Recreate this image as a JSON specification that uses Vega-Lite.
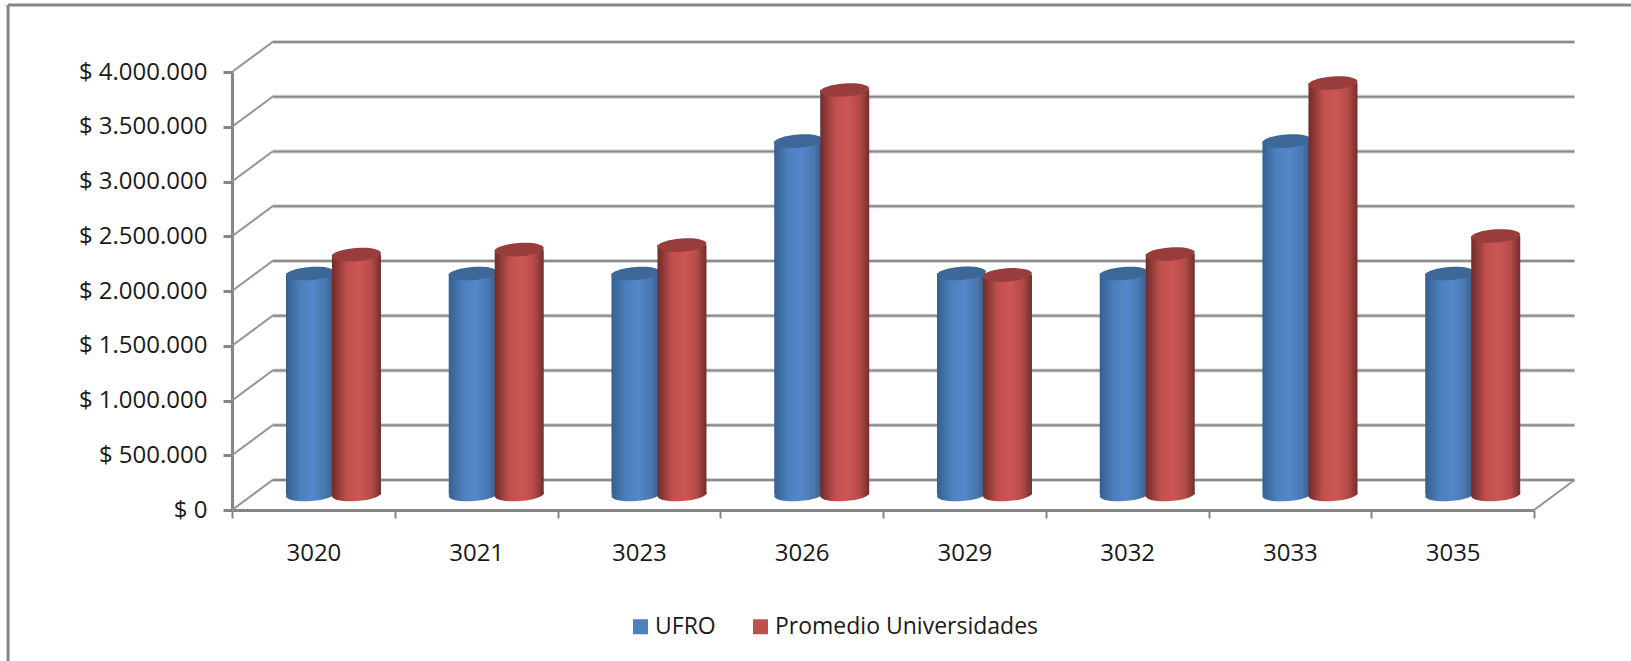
{
"$schema":"https://vega.github.io/schema/vega-lite/v6.json",
"width":1302,"height":438,"autosize":"none",
"padding":{"left":232,"top":72,"right":97,"bottom":151},
"background":"white",
"config":{"view":{"stroke":null},"font":"Open Sans"},
"datasets":{
"bars":[
{"cat":"3020","series":"UFRO","value":2018000},{"cat":"3021","series":"UFRO","value":2018000},{"cat":"3023","series":"UFRO","value":2018000},{"cat":"3026","series":"UFRO","value":3228000},{"cat":"3029","series":"UFRO","value":2020000},{"cat":"3032","series":"UFRO","value":2018000},{"cat":"3033","series":"UFRO","value":3228000},{"cat":"3035","series":"UFRO","value":2018000},
{"cat":"3020","series":"Promedio Universidades","value":2190000},{"cat":"3021","series":"Promedio Universidades","value":2236000},{"cat":"3023","series":"Promedio Universidades","value":2278000},{"cat":"3026","series":"Promedio Universidades","value":3694000},{"cat":"3029","series":"Promedio Universidades","value":2005000},{"cat":"3032","series":"Promedio Universidades","value":2196000},{"cat":"3033","series":"Promedio Universidades","value":3758000},{"cat":"3035","series":"Promedio Universidades","value":2361000}
],
"grid":[
{"value":0,"back":274000},{"value":500000,"back":774000},{"value":1000000,"back":1274000},{"value":1500000,"back":1774000},{"value":2000000,"back":2274000},{"value":2500000,"back":2774000},{"value":3000000,"back":3274000},{"value":3500000,"back":3774000},{"value":4000000,"back":4274000}
],
"frame":[
{"xa":-1.376,"xb":8.6,"ya":4612000,"yb":4612000},
{"xa":-1.376,"xb":-1.376,"ya":4612000,"yb":-1380000}
]
},
"layer":[
{"data":{"name":"frame"},"mark":{"type":"rule","color":"#868686","strokeWidth":3},
 "encoding":{
  "x":{"field":"xa","type":"quantitative","scale":{"domain":[0,8],"nice":false,"zero":false},"axis":null},"x2":{"field":"xb"},
  "y":{"field":"ya","type":"quantitative","scale":{"domain":[0,4000000],"nice":false},"axis":null},"y2":{"field":"yb"}}},
{"data":{"name":"grid"},"mark":{"type":"rule","color":"#d4d4d4","strokeWidth":4},
 "encoding":{
  "x":{"datum":0.249,"type":"quantitative","scale":{"domain":[0,8],"nice":false,"zero":false},"axis":null},"x2":{"datum":8.249},
  "y":{"field":"back","type":"quantitative","scale":{"domain":[0,4000000],"nice":false},"axis":null}}},
{"data":{"name":"grid"},"mark":{"type":"rule","color":"#8a8a8a","strokeWidth":2},
 "encoding":{
  "x":{"datum":0.249,"type":"quantitative","scale":{"domain":[0,8],"nice":false,"zero":false},"axis":null},"x2":{"datum":8.249},
  "y":{"field":"back","type":"quantitative","scale":{"domain":[0,4000000],"nice":false},"axis":null}}},
{"data":{"name":"grid"},"mark":{"type":"rule","color":"#949494","strokeWidth":2},
 "encoding":{
  "x":{"datum":0,"type":"quantitative","scale":{"domain":[0,8],"nice":false,"zero":false},"axis":null},"x2":{"datum":0.249},
  "y":{"field":"value","type":"quantitative","scale":{"domain":[0,4000000],"nice":false},
   "axis":{"title":null,"values":[0,500000,1000000,1500000,2000000,2500000,3000000,3500000,4000000],"grid":false,"domainColor":"#868686","domainWidth":3,"tickColor":"#868686","tickWidth":3,"tickSize":9,"labelPadding":16,"labelFont":"Open Sans","labelFontSize":24,"labelColor":"#1a1a1a","labelExpr":"'$ ' + replace(format(datum.value, ','), /,/g, '.')"}},
  "y2":{"field":"back"}}},
{"data":{"name":"grid"},"transform":[{"filter":"datum.value === 0"}],"mark":{"type":"rule","color":"#949494","strokeWidth":2},
 "encoding":{
  "x":{"datum":8,"type":"quantitative","scale":{"domain":[0,8],"nice":false,"zero":false},"axis":null},"x2":{"datum":8.249},
  "y":{"field":"value","type":"quantitative","scale":{"domain":[0,4000000],"nice":false},"axis":null},
  "y2":{"field":"back"}}},
{"data":{"name":"bars"},"mark":{"type":"rule","opacity":0},
 "encoding":{
  "x":{"field":"cat","type":"nominal","scale":{"paddingInner":0,"paddingOuter":0},
   "axis":{"title":null,"labelAngle":0,"tickBand":"extent","domainColor":"#868686","domainWidth":3,"tickColor":"#868686","tickWidth":2,"tickSize":8,"labelPadding":23,"labelFont":"Open Sans","labelFontSize":24,"labelColor":"#1a1a1a"}}}},
{"data":{"name":"bars"},"mark":{"type":"square","opacity":0,"size":1},
 "encoding":{
  "fill":{"field":"series","type":"nominal","scale":{"domain":["UFRO","Promedio Universidades"],"range":["#4f81bd","#c0504d"]},
   "legend":{"title":null,"orient":"none","legendX":397,"legendY":543,"direction":"horizontal","columns":2,"symbolType":"square","symbolSize":225,"symbolOpacity":1,"symbolStrokeWidth":0,"labelFont":"Open Sans","labelFontSize":23,"labelColor":"#1a1a1a","labelOffset":3,"labelLimit":500,"columnPadding":33,"padding":0}}}},

{"data":{"name":"bars"},"transform":[{"filter":"datum.series === 'UFRO'"}],
 "encoding":{"x":{"field":"cat","type":"nominal","scale":{"range":[-2.9,1299.1],"paddingInner":0,"paddingOuter":0},"axis":null}},
 "layer":[
 {"mark":{"type":"point","filled":true,"opacity":1,"size":2401,"shape":"M-1,0.07A1,0.27,-4,1,1,1,-0.07A1,0.27,-4,1,1,-1,0.07Z","fill":{"gradient":"linear","x1":0,"x2":1,"y1":0,"y2":0,"stops":[{"offset":0,"color":"#34608f"},{"offset":0.3,"color":"#4d80bf"},{"offset":0.55,"color":"#5487ca"},{"offset":0.8,"color":"#4a78b0"},{"offset":1,"color":"#355a85"}]}},
  "encoding":{"y":{"datum":0,"type":"quantitative","scale":{"domain":[0,4000000],"range":[422.5,-15.5],"nice":false},"axis":null}}},
 {"mark":{"type":"bar","width":49,"fill":{"gradient":"linear","x1":0,"x2":1,"y1":0,"y2":0,"stops":[{"offset":0,"color":"#34608f"},{"offset":0.3,"color":"#4d80bf"},{"offset":0.55,"color":"#5487ca"},{"offset":0.8,"color":"#4a78b0"},{"offset":1,"color":"#355a85"}]}},
  "encoding":{"y":{"field":"value","type":"quantitative","scale":{"domain":[0,4000000],"range":[422.5,-15.5],"nice":false},"axis":null}}},
 {"mark":{"type":"point","filled":true,"opacity":1,"size":2401,"shape":"M-1,0.07A1,0.27,-4,1,1,1,-0.07A1,0.27,-4,1,1,-1,0.07Z","fill":"#3c6796"},
  "encoding":{"y":{"field":"value","type":"quantitative","scale":{"domain":[0,4000000],"range":[422.5,-15.5],"nice":false},"axis":null}}}
 ]},
{"data":{"name":"bars"},"transform":[{"filter":"datum.series === 'Promedio Universidades'"}],
 "encoding":{"x":{"field":"cat","type":"nominal","scale":{"range":[43.1,1345.1],"paddingInner":0,"paddingOuter":0},"axis":null}},
 "layer":[
 {"mark":{"type":"point","filled":true,"opacity":1,"size":2401,"shape":"M-1,0.07A1,0.27,-4,1,1,1,-0.07A1,0.27,-4,1,1,-1,0.07Z","fill":{"gradient":"linear","x1":0,"x2":1,"y1":0,"y2":0,"stops":[{"offset":0,"color":"#6e2b2a"},{"offset":0.3,"color":"#c0504d"},{"offset":0.55,"color":"#cc5654"},{"offset":0.8,"color":"#b64c49"},{"offset":1,"color":"#722e2c"}]}},
  "encoding":{"y":{"datum":0,"type":"quantitative","scale":{"domain":[0,4000000],"range":[422.5,-15.5],"nice":false},"axis":null}}},
 {"mark":{"type":"bar","width":49,"fill":{"gradient":"linear","x1":0,"x2":1,"y1":0,"y2":0,"stops":[{"offset":0,"color":"#6e2b2a"},{"offset":0.3,"color":"#c0504d"},{"offset":0.55,"color":"#cc5654"},{"offset":0.8,"color":"#b64c49"},{"offset":1,"color":"#722e2c"}]}},
  "encoding":{"y":{"field":"value","type":"quantitative","scale":{"domain":[0,4000000],"range":[422.5,-15.5],"nice":false},"axis":null}}},
 {"mark":{"type":"point","filled":true,"opacity":1,"size":2401,"shape":"M-1,0.07A1,0.27,-4,1,1,1,-0.07A1,0.27,-4,1,1,-1,0.07Z","fill":"#983d3b"},
  "encoding":{"y":{"field":"value","type":"quantitative","scale":{"domain":[0,4000000],"range":[422.5,-15.5],"nice":false},"axis":null}}}
 ]}
],
"resolve":{"scale":{"x":"independent","y":"independent","fill":"independent"}}
}
